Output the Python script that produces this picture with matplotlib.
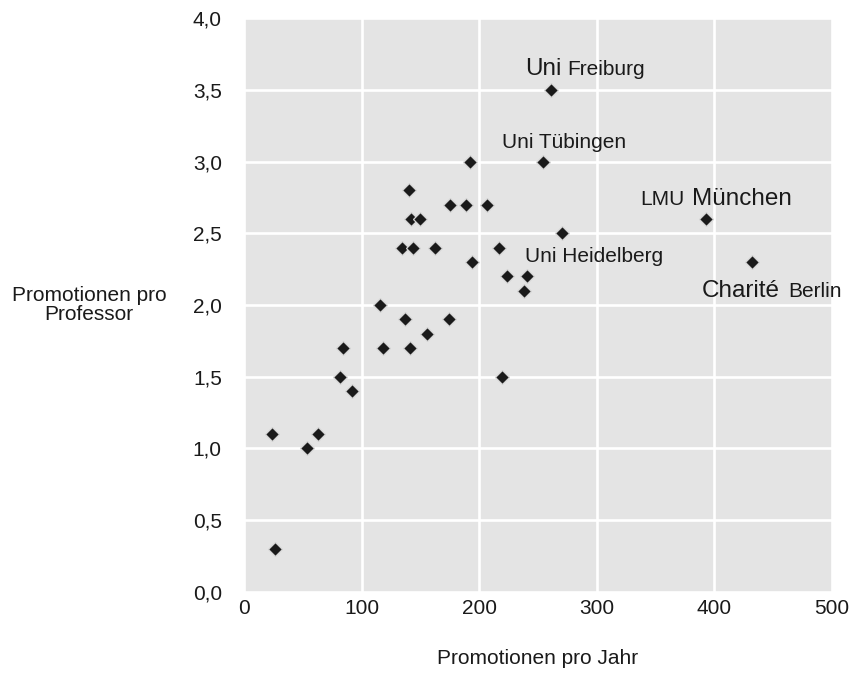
import matplotlib.pyplot as plt
from matplotlib.ticker import FuncFormatter

plt.rcParams['font.family'] = ['Liberation Sans', 'DejaVu Sans']

# Promotionen pro Jahr / Promotionen pro Professor
promotionen_jahr = [24, 26, 54, 63, 82, 84, 92, 116, 118, 134, 137, 140, 141, 142,
                    144, 150, 156, 162, 174, 175, 189, 192, 194, 207, 217, 219,
                    224, 238, 241, 254, 261, 270, 393, 432]
promotionen_prof = [1.1, 0.3, 1.0, 1.1, 1.5, 1.7, 1.4, 2.0, 1.7, 2.4, 1.9, 2.8, 1.7, 2.6,
                    2.4, 2.6, 1.8, 2.4, 1.9, 2.7, 2.7, 3.0, 2.3, 2.7, 2.4, 1.5,
                    2.2, 2.1, 2.2, 3.0, 3.5, 2.5, 2.6, 2.3]

# label words: (text, fontsize, x, y)
label_words = [
    ("Uni", 17.5, 238.7, 3.605), ("Freiburg", 15, 274.7, 3.605),
    ("Uni Tübingen", 15, 219.8, 3.094),
    ("LMU", 15, 337.3, 2.698), ("München", 17.5, 380.9, 2.698),
    ("Uni Heidelberg", 15, 238.7, 2.302),
    ("Charité", 17.5, 389.4, 2.058), ("Berlin", 15, 462.4, 2.058),
]

fig = plt.figure(figsize=(8.51, 6.75), dpi=100)
ax = fig.add_axes([0.2867, 0.1236, 0.691, 0.8491])
ax.set_facecolor('#e4e4e4')

ax.plot(promotionen_jahr, promotionen_prof, linestyle='none', marker='D',
        markersize=7.2, markerfacecolor='#1a1a1a', markeredgecolor='#d6d6d6',
        markeredgewidth=0.9, zorder=3)

for word, size, x, y in label_words:
    ax.text(x, y, word, fontsize=size, color='#1a1a1a', va='baseline', ha='left', zorder=4)

ax.set_xlim(0, 500)
ax.set_ylim(0, 4)
ax.set_xticks([0, 100, 200, 300, 400, 500])
ax.set_yticks([0, 0.5, 1, 1.5, 2, 2.5, 3, 3.5, 4])
ax.yaxis.set_major_formatter(FuncFormatter(lambda v, p: f"{v:.1f}".replace('.', ',')))

ax.grid(True, color='white', linewidth=1.9)
ax.set_axisbelow(True)
for sp in ax.spines.values():
    sp.set_visible(False)
ax.tick_params(length=0, labelsize=15, colors='#1a1a1a')
ax.tick_params(axis='y', pad=16)
ax.tick_params(axis='x', pad=5)

ax.set_xlabel("Promotionen pro Jahr", fontsize=15, color='#1a1a1a')
ax.xaxis.set_label_coords(0.5, -0.1)
ax.set_ylabel("Promotionen pro\nProfessor", fontsize=15, color='#1a1a1a',
              rotation=0, ha='center', va='center', linespacing=1.05)
ax.yaxis.set_label_coords(-0.2636, 0.5)

plt.savefig("out.png", dpi=100)
